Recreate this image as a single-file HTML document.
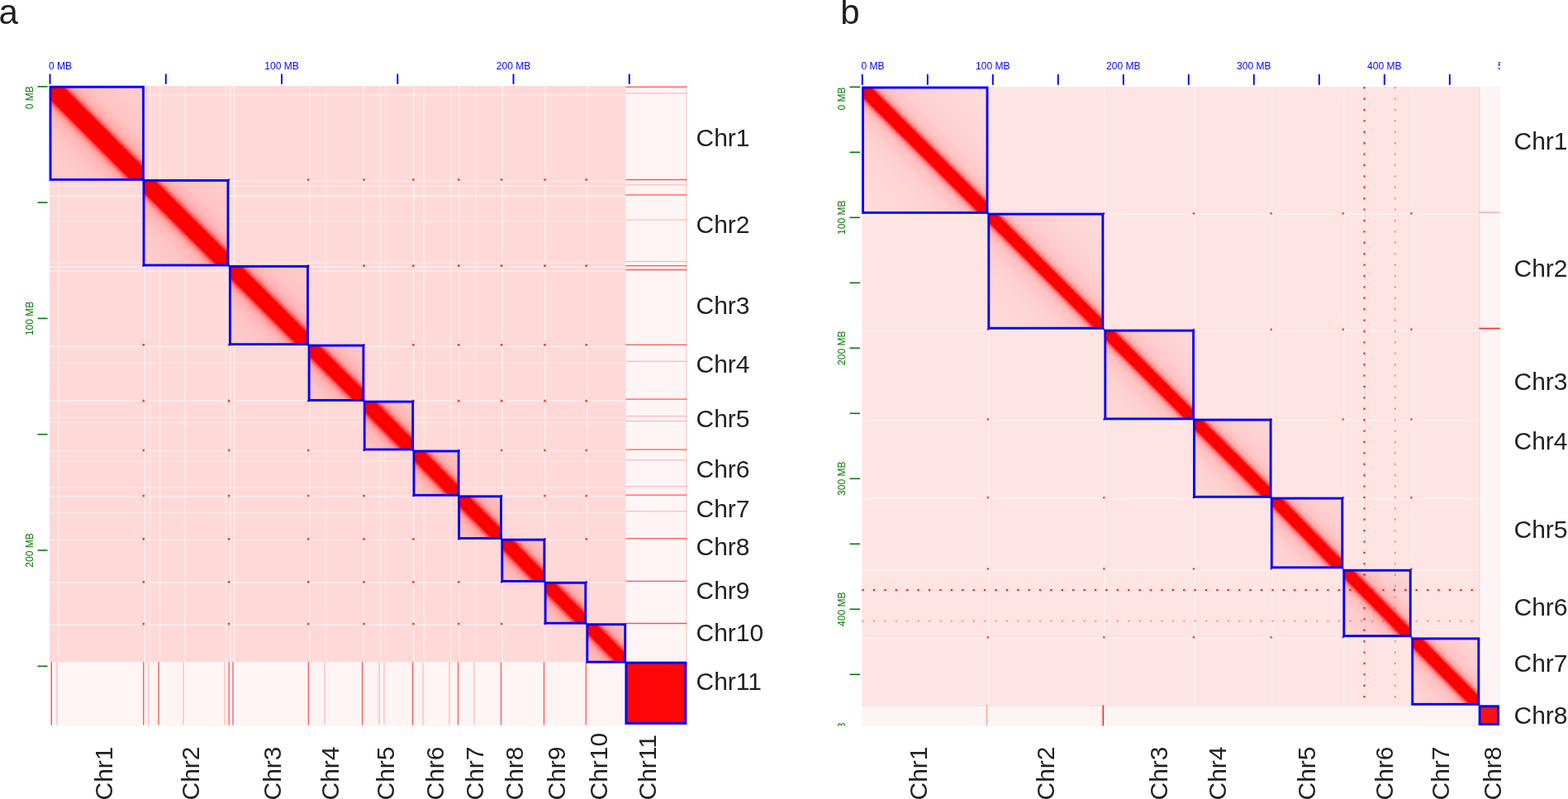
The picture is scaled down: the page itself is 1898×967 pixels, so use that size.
<!DOCTYPE html>
<html><head><meta charset="utf-8"><title>Hi-C heatmaps</title>
<style>html,body{margin:0;padding:0;background:#fff;overflow:hidden;width:1898px;height:967px}svg{display:block}</style>
</head><body>
<svg width="1898" height="967" viewBox="0 0 1898 967"><defs><linearGradient id="a0" gradientUnits="userSpaceOnUse" x1="61" y1="217.4" x2="173.5" y2="105.2"><stop offset="0" stop-color="#ffcece"/><stop offset="0.1262" stop-color="#ffcbcb"/><stop offset="0.2819" stop-color="#ffc4c4"/><stop offset="0.3576" stop-color="#ffb6b6"/><stop offset="0.3932" stop-color="#ffa0a0"/><stop offset="0.4132" stop-color="#ff7676"/><stop offset="0.4266" stop-color="#ff3a3a"/><stop offset="0.4377" stop-color="#ff0000"/><stop offset="0.5" stop-color="#ff0000"/><stop offset="0.5623" stop-color="#ff0000"/><stop offset="0.5734" stop-color="#ff3a3a"/><stop offset="0.5868" stop-color="#ff7676"/><stop offset="0.6068" stop-color="#ffa0a0"/><stop offset="0.6424" stop-color="#ffb6b6"/><stop offset="0.7181" stop-color="#ffc4c4"/><stop offset="0.8738" stop-color="#ffcbcb"/><stop offset="1" stop-color="#ffcece"/></linearGradient><linearGradient id="a1" gradientUnits="userSpaceOnUse" x1="174" y1="321" x2="276" y2="218.4"><stop offset="0" stop-color="#ffcdcd"/><stop offset="0.0968" stop-color="#ffcbcb"/><stop offset="0.2678" stop-color="#ffc4c4"/><stop offset="0.3509" stop-color="#ffb6b6"/><stop offset="0.39" stop-color="#ffa0a0"/><stop offset="0.412" stop-color="#ff7676"/><stop offset="0.4267" stop-color="#ff3a3a"/><stop offset="0.4389" stop-color="#ff0000"/><stop offset="0.5" stop-color="#ff0000"/><stop offset="0.5611" stop-color="#ff0000"/><stop offset="0.5733" stop-color="#ff3a3a"/><stop offset="0.588" stop-color="#ff7676"/><stop offset="0.61" stop-color="#ffa0a0"/><stop offset="0.6491" stop-color="#ffb6b6"/><stop offset="0.7322" stop-color="#ffc4c4"/><stop offset="0.9032" stop-color="#ffcbcb"/><stop offset="1" stop-color="#ffcdcd"/></linearGradient><linearGradient id="a2" gradientUnits="userSpaceOnUse" x1="278.4" y1="416.7" x2="372.5" y2="322.4"><stop offset="0" stop-color="#ffcccc"/><stop offset="0.0648" stop-color="#ffcbcb"/><stop offset="0.2505" stop-color="#ffc4c4"/><stop offset="0.3408" stop-color="#ffb6b6"/><stop offset="0.3832" stop-color="#ffa0a0"/><stop offset="0.4071" stop-color="#ff7676"/><stop offset="0.423" stop-color="#ff3a3a"/><stop offset="0.4363" stop-color="#ff0000"/><stop offset="0.5" stop-color="#ff0000"/><stop offset="0.5637" stop-color="#ff0000"/><stop offset="0.577" stop-color="#ff3a3a"/><stop offset="0.5929" stop-color="#ff7676"/><stop offset="0.6168" stop-color="#ffa0a0"/><stop offset="0.6592" stop-color="#ffb6b6"/><stop offset="0.7495" stop-color="#ffc4c4"/><stop offset="0.9352" stop-color="#ffcbcb"/><stop offset="1" stop-color="#ffcccc"/></linearGradient><linearGradient id="a3" gradientUnits="userSpaceOnUse" x1="374.1" y1="484.4" x2="439.9" y2="418.1"><stop offset="0" stop-color="#ffc8c8"/><stop offset="0.1556" stop-color="#ffc4c4"/><stop offset="0.2843" stop-color="#ffb6b6"/><stop offset="0.3448" stop-color="#ffa0a0"/><stop offset="0.3789" stop-color="#ff7676"/><stop offset="0.4016" stop-color="#ff3a3a"/><stop offset="0.4205" stop-color="#ff0000"/><stop offset="0.5" stop-color="#ff0000"/><stop offset="0.5795" stop-color="#ff0000"/><stop offset="0.5984" stop-color="#ff3a3a"/><stop offset="0.6211" stop-color="#ff7676"/><stop offset="0.6552" stop-color="#ffa0a0"/><stop offset="0.7157" stop-color="#ffb6b6"/><stop offset="0.8444" stop-color="#ffc4c4"/><stop offset="1" stop-color="#ffc8c8"/></linearGradient><linearGradient id="a4" gradientUnits="userSpaceOnUse" x1="441.2" y1="544" x2="499.7" y2="486.1"><stop offset="0" stop-color="#ffc6c6"/><stop offset="0.1048" stop-color="#ffc4c4"/><stop offset="0.2509" stop-color="#ffb6b6"/><stop offset="0.3196" stop-color="#ffa0a0"/><stop offset="0.3582" stop-color="#ff7676"/><stop offset="0.384" stop-color="#ff3a3a"/><stop offset="0.4055" stop-color="#ff0000"/><stop offset="0.5" stop-color="#ff0000"/><stop offset="0.5945" stop-color="#ff0000"/><stop offset="0.616" stop-color="#ff3a3a"/><stop offset="0.6418" stop-color="#ff7676"/><stop offset="0.6804" stop-color="#ffa0a0"/><stop offset="0.7491" stop-color="#ffb6b6"/><stop offset="0.8952" stop-color="#ffc4c4"/><stop offset="1" stop-color="#ffc6c6"/></linearGradient><linearGradient id="a5" gradientUnits="userSpaceOnUse" x1="501" y1="599.3" x2="555.1" y2="546"><stop offset="0" stop-color="#ffc6c6"/><stop offset="0.081" stop-color="#ffc4c4"/><stop offset="0.2393" stop-color="#ffb6b6"/><stop offset="0.3138" stop-color="#ffa0a0"/><stop offset="0.3557" stop-color="#ff7676"/><stop offset="0.3836" stop-color="#ff3a3a"/><stop offset="0.4069" stop-color="#ff0000"/><stop offset="0.5" stop-color="#ff0000"/><stop offset="0.5931" stop-color="#ff0000"/><stop offset="0.6164" stop-color="#ff3a3a"/><stop offset="0.6443" stop-color="#ff7676"/><stop offset="0.6862" stop-color="#ffa0a0"/><stop offset="0.7607" stop-color="#ffb6b6"/><stop offset="0.919" stop-color="#ffc4c4"/><stop offset="1" stop-color="#ffc6c6"/></linearGradient><linearGradient id="a6" gradientUnits="userSpaceOnUse" x1="555.6" y1="651.5" x2="606.5" y2="600.8"><stop offset="0" stop-color="#ffc5c5"/><stop offset="0.0571" stop-color="#ffc4c4"/><stop offset="0.2244" stop-color="#ffb6b6"/><stop offset="0.3031" stop-color="#ffa0a0"/><stop offset="0.3474" stop-color="#ff7676"/><stop offset="0.377" stop-color="#ff3a3a"/><stop offset="0.4016" stop-color="#ff0000"/><stop offset="0.5" stop-color="#ff0000"/><stop offset="0.5984" stop-color="#ff0000"/><stop offset="0.623" stop-color="#ff3a3a"/><stop offset="0.6526" stop-color="#ff7676"/><stop offset="0.6969" stop-color="#ffa0a0"/><stop offset="0.7756" stop-color="#ffb6b6"/><stop offset="0.9429" stop-color="#ffc4c4"/><stop offset="1" stop-color="#ffc5c5"/></linearGradient><linearGradient id="a7" gradientUnits="userSpaceOnUse" x1="607.8" y1="703.4" x2="658.9" y2="653.2"><stop offset="0" stop-color="#ffc5c5"/><stop offset="0.0558" stop-color="#ffc4c4"/><stop offset="0.2236" stop-color="#ffb6b6"/><stop offset="0.3026" stop-color="#ffa0a0"/><stop offset="0.347" stop-color="#ff7676"/><stop offset="0.3766" stop-color="#ff3a3a"/><stop offset="0.4013" stop-color="#ff0000"/><stop offset="0.5" stop-color="#ff0000"/><stop offset="0.5987" stop-color="#ff0000"/><stop offset="0.6234" stop-color="#ff3a3a"/><stop offset="0.653" stop-color="#ff7676"/><stop offset="0.6974" stop-color="#ffa0a0"/><stop offset="0.7764" stop-color="#ffb6b6"/><stop offset="0.9442" stop-color="#ffc4c4"/><stop offset="1" stop-color="#ffc5c5"/></linearGradient><linearGradient id="a8" gradientUnits="userSpaceOnUse" x1="660.1" y1="754.2" x2="708.8" y2="705.3"><stop offset="0" stop-color="#ffc5c5"/><stop offset="0.0441" stop-color="#ffc4c4"/><stop offset="0.2182" stop-color="#ffb6b6"/><stop offset="0.3002" stop-color="#ffa0a0"/><stop offset="0.3463" stop-color="#ff7676"/><stop offset="0.377" stop-color="#ff3a3a"/><stop offset="0.4027" stop-color="#ff0000"/><stop offset="0.5" stop-color="#ff0000"/><stop offset="0.5973" stop-color="#ff0000"/><stop offset="0.623" stop-color="#ff3a3a"/><stop offset="0.6537" stop-color="#ff7676"/><stop offset="0.6998" stop-color="#ffa0a0"/><stop offset="0.7818" stop-color="#ffb6b6"/><stop offset="0.9559" stop-color="#ffc4c4"/><stop offset="1" stop-color="#ffc5c5"/></linearGradient><linearGradient id="a9" gradientUnits="userSpaceOnUse" x1="710.8" y1="801.2" x2="756.7" y2="755.7"><stop offset="0" stop-color="#ffc4c4"/><stop offset="0.0131" stop-color="#ffc4c4"/><stop offset="0.1991" stop-color="#ffb6b6"/><stop offset="0.2867" stop-color="#ffa0a0"/><stop offset="0.3359" stop-color="#ff7676"/><stop offset="0.3687" stop-color="#ff3a3a"/><stop offset="0.3961" stop-color="#ff0000"/><stop offset="0.5" stop-color="#ff0000"/><stop offset="0.6039" stop-color="#ff0000"/><stop offset="0.6313" stop-color="#ff3a3a"/><stop offset="0.6641" stop-color="#ff7676"/><stop offset="0.7133" stop-color="#ffa0a0"/><stop offset="0.8009" stop-color="#ffb6b6"/><stop offset="0.9869" stop-color="#ffc4c4"/><stop offset="1" stop-color="#ffc4c4"/></linearGradient><linearGradient id="b0" gradientUnits="userSpaceOnUse" x1="1044.5" y1="257.4" x2="1195" y2="106"><stop offset="0" stop-color="#ffdcdc"/><stop offset="0.0379" stop-color="#ffdcdc"/><stop offset="0.2698" stop-color="#ffd4d4"/><stop offset="0.3692" stop-color="#ffcccc"/><stop offset="0.4155" stop-color="#ffc0c0"/><stop offset="0.4387" stop-color="#ffaaaa"/><stop offset="0.452" stop-color="#ff8080"/><stop offset="0.4603" stop-color="#ff4040"/><stop offset="0.4685" stop-color="#ff0000"/><stop offset="0.5" stop-color="#ff0000"/><stop offset="0.5315" stop-color="#ff0000"/><stop offset="0.5397" stop-color="#ff4040"/><stop offset="0.548" stop-color="#ff8080"/><stop offset="0.5613" stop-color="#ffaaaa"/><stop offset="0.5845" stop-color="#ffc0c0"/><stop offset="0.6308" stop-color="#ffcccc"/><stop offset="0.7302" stop-color="#ffd4d4"/><stop offset="0.9621" stop-color="#ffdcdc"/><stop offset="1" stop-color="#ffdcdc"/></linearGradient><linearGradient id="b1" gradientUnits="userSpaceOnUse" x1="1196.8" y1="397.2" x2="1334.9" y2="259.1"><stop offset="0" stop-color="#ffdcdc"/><stop offset="0.252" stop-color="#ffd4d4"/><stop offset="0.3606" stop-color="#ffcccc"/><stop offset="0.4113" stop-color="#ffc0c0"/><stop offset="0.4366" stop-color="#ffaaaa"/><stop offset="0.4511" stop-color="#ff8080"/><stop offset="0.4602" stop-color="#ff4040"/><stop offset="0.4692" stop-color="#ff0000"/><stop offset="0.5" stop-color="#ff0000"/><stop offset="0.5308" stop-color="#ff0000"/><stop offset="0.5398" stop-color="#ff4040"/><stop offset="0.5489" stop-color="#ff8080"/><stop offset="0.5634" stop-color="#ffaaaa"/><stop offset="0.5887" stop-color="#ffc0c0"/><stop offset="0.6394" stop-color="#ffcccc"/><stop offset="0.748" stop-color="#ffd4d4"/><stop offset="1" stop-color="#ffdcdc"/></linearGradient><linearGradient id="b2" gradientUnits="userSpaceOnUse" x1="1337.8" y1="506.9" x2="1444.6" y2="400.1"><stop offset="0" stop-color="#ffd8d8"/><stop offset="0.1793" stop-color="#ffd4d4"/><stop offset="0.3198" stop-color="#ffcccc"/><stop offset="0.3853" stop-color="#ffc0c0"/><stop offset="0.4181" stop-color="#ffaaaa"/><stop offset="0.4368" stop-color="#ff8080"/><stop offset="0.4485" stop-color="#ff4040"/><stop offset="0.4602" stop-color="#ff0000"/><stop offset="0.5" stop-color="#ff0000"/><stop offset="0.5398" stop-color="#ff0000"/><stop offset="0.5515" stop-color="#ff4040"/><stop offset="0.5632" stop-color="#ff8080"/><stop offset="0.5819" stop-color="#ffaaaa"/><stop offset="0.6147" stop-color="#ffc0c0"/><stop offset="0.6802" stop-color="#ffcccc"/><stop offset="0.8207" stop-color="#ffd4d4"/><stop offset="1" stop-color="#ffd8d8"/></linearGradient><linearGradient id="b3" gradientUnits="userSpaceOnUse" x1="1445.5" y1="601.3" x2="1538.1" y2="508.1"><stop offset="0" stop-color="#ffd7d7"/><stop offset="0.1313" stop-color="#ffd4d4"/><stop offset="0.2928" stop-color="#ffcccc"/><stop offset="0.3681" stop-color="#ffc0c0"/><stop offset="0.4058" stop-color="#ffaaaa"/><stop offset="0.4273" stop-color="#ff8080"/><stop offset="0.4408" stop-color="#ff4040"/><stop offset="0.4543" stop-color="#ff0000"/><stop offset="0.5" stop-color="#ff0000"/><stop offset="0.5457" stop-color="#ff0000"/><stop offset="0.5592" stop-color="#ff4040"/><stop offset="0.5727" stop-color="#ff8080"/><stop offset="0.5942" stop-color="#ffaaaa"/><stop offset="0.6319" stop-color="#ffc0c0"/><stop offset="0.7072" stop-color="#ffcccc"/><stop offset="0.8687" stop-color="#ffd4d4"/><stop offset="1" stop-color="#ffd7d7"/></linearGradient><linearGradient id="b4" gradientUnits="userSpaceOnUse" x1="1539.3" y1="686.8" x2="1624.8" y2="603.1"><stop offset="0" stop-color="#ffd6d6"/><stop offset="0.0952" stop-color="#ffd4d4"/><stop offset="0.2725" stop-color="#ffcccc"/><stop offset="0.3552" stop-color="#ffc0c0"/><stop offset="0.3966" stop-color="#ffaaaa"/><stop offset="0.4202" stop-color="#ff8080"/><stop offset="0.435" stop-color="#ff4040"/><stop offset="0.4498" stop-color="#ff0000"/><stop offset="0.5" stop-color="#ff0000"/><stop offset="0.5502" stop-color="#ff0000"/><stop offset="0.565" stop-color="#ff4040"/><stop offset="0.5798" stop-color="#ff8080"/><stop offset="0.6034" stop-color="#ffaaaa"/><stop offset="0.6448" stop-color="#ffc0c0"/><stop offset="0.7275" stop-color="#ffcccc"/><stop offset="0.9048" stop-color="#ffd4d4"/><stop offset="1" stop-color="#ffd6d6"/></linearGradient><linearGradient id="b5" gradientUnits="userSpaceOnUse" x1="1626.8" y1="769.7" x2="1707.2" y2="690.3"><stop offset="0" stop-color="#ffd5d5"/><stop offset="0.0745" stop-color="#ffd4d4"/><stop offset="0.2622" stop-color="#ffcccc"/><stop offset="0.3498" stop-color="#ffc0c0"/><stop offset="0.3936" stop-color="#ffaaaa"/><stop offset="0.4186" stop-color="#ff8080"/><stop offset="0.4343" stop-color="#ff4040"/><stop offset="0.4499" stop-color="#ff0000"/><stop offset="0.5" stop-color="#ff0000"/><stop offset="0.5501" stop-color="#ff0000"/><stop offset="0.5657" stop-color="#ff4040"/><stop offset="0.5814" stop-color="#ff8080"/><stop offset="0.6064" stop-color="#ffaaaa"/><stop offset="0.6502" stop-color="#ffc0c0"/><stop offset="0.7378" stop-color="#ffcccc"/><stop offset="0.9255" stop-color="#ffd4d4"/><stop offset="1" stop-color="#ffd5d5"/></linearGradient><linearGradient id="b6" gradientUnits="userSpaceOnUse" x1="1709.7" y1="852.3" x2="1789.8" y2="772.9"><stop offset="0" stop-color="#ffd5d5"/><stop offset="0.0674" stop-color="#ffd4d4"/><stop offset="0.2555" stop-color="#ffcccc"/><stop offset="0.3433" stop-color="#ffc0c0"/><stop offset="0.3871" stop-color="#ffaaaa"/><stop offset="0.4122" stop-color="#ff8080"/><stop offset="0.4279" stop-color="#ff4040"/><stop offset="0.4436" stop-color="#ff0000"/><stop offset="0.5" stop-color="#ff0000"/><stop offset="0.5564" stop-color="#ff0000"/><stop offset="0.5721" stop-color="#ff4040"/><stop offset="0.5878" stop-color="#ff8080"/><stop offset="0.6129" stop-color="#ffaaaa"/><stop offset="0.6567" stop-color="#ffc0c0"/><stop offset="0.7445" stop-color="#ffcccc"/><stop offset="0.9326" stop-color="#ffd4d4"/><stop offset="1" stop-color="#ffd5d5"/></linearGradient></defs>
<rect x="60" y="104" width="771.5" height="773.5" fill="#ffd8d8"/>
<rect x="757.3" y="104" width="74.2" height="697.25" fill="#fff5f5"/>
<rect x="60" y="801.25" width="697.3" height="76.25" fill="#fff5f5"/>
<line x1="175.25" y1="104" x2="175.25" y2="801.25" stroke="#ffffff" stroke-width="1.6" stroke-opacity="0.55"/>
<line x1="60" y1="219" x2="757.3" y2="219" stroke="#ffffff" stroke-width="1.6" stroke-opacity="0.55"/>
<line x1="193.5" y1="104" x2="193.5" y2="801.25" stroke="#ffffff" stroke-width="1.6" stroke-opacity="0.55"/>
<line x1="60" y1="237.38" x2="757.3" y2="237.38" stroke="#ffffff" stroke-width="1.6" stroke-opacity="0.55"/>
<line x1="278.7" y1="104" x2="278.7" y2="801.25" stroke="#ffffff" stroke-width="1.6" stroke-opacity="0.55"/>
<line x1="60" y1="323.2" x2="757.3" y2="323.2" stroke="#ffffff" stroke-width="1.6" stroke-opacity="0.55"/>
<line x1="283.5" y1="104" x2="283.5" y2="801.25" stroke="#ffffff" stroke-width="1.6" stroke-opacity="0.55"/>
<line x1="60" y1="327.98" x2="757.3" y2="327.98" stroke="#ffffff" stroke-width="1.6" stroke-opacity="0.55"/>
<line x1="374.8" y1="104" x2="374.8" y2="801.25" stroke="#ffffff" stroke-width="1.6" stroke-opacity="0.55"/>
<line x1="60" y1="418.9" x2="757.3" y2="418.9" stroke="#ffffff" stroke-width="1.6" stroke-opacity="0.55"/>
<line x1="440" y1="104" x2="440" y2="801.25" stroke="#ffffff" stroke-width="1.6" stroke-opacity="0.55"/>
<line x1="60" y1="484.68" x2="757.3" y2="484.68" stroke="#ffffff" stroke-width="1.6" stroke-opacity="0.55"/>
<line x1="501" y1="104" x2="501" y2="801.25" stroke="#ffffff" stroke-width="1.6" stroke-opacity="0.55"/>
<line x1="60" y1="545.7" x2="757.3" y2="545.7" stroke="#ffffff" stroke-width="1.6" stroke-opacity="0.55"/>
<line x1="556" y1="104" x2="556" y2="801.25" stroke="#ffffff" stroke-width="1.6" stroke-opacity="0.55"/>
<line x1="60" y1="600.65" x2="757.3" y2="600.65" stroke="#ffffff" stroke-width="1.6" stroke-opacity="0.55"/>
<line x1="608" y1="104" x2="608" y2="801.25" stroke="#ffffff" stroke-width="1.6" stroke-opacity="0.55"/>
<line x1="60" y1="653.19" x2="757.3" y2="653.19" stroke="#ffffff" stroke-width="1.6" stroke-opacity="0.55"/>
<line x1="660" y1="104" x2="660" y2="801.25" stroke="#ffffff" stroke-width="1.6" stroke-opacity="0.55"/>
<line x1="60" y1="704.86" x2="757.3" y2="704.86" stroke="#ffffff" stroke-width="1.6" stroke-opacity="0.55"/>
<line x1="710.8" y1="104" x2="710.8" y2="801.25" stroke="#ffffff" stroke-width="1.6" stroke-opacity="0.55"/>
<line x1="60" y1="756" x2="757.3" y2="756" stroke="#ffffff" stroke-width="1.6" stroke-opacity="0.55"/>
<line x1="70.5" y1="104" x2="70.5" y2="801.25" stroke="#ffffff" stroke-width="1.6" stroke-opacity="0.4"/>
<line x1="60" y1="114.48" x2="757.3" y2="114.48" stroke="#ffffff" stroke-width="1.6" stroke-opacity="0.4"/>
<line x1="181.5" y1="104" x2="181.5" y2="801.25" stroke="#ffffff" stroke-width="1.6" stroke-opacity="0.4"/>
<line x1="60" y1="225.3" x2="757.3" y2="225.3" stroke="#ffffff" stroke-width="1.6" stroke-opacity="0.4"/>
<line x1="223.5" y1="104" x2="223.5" y2="801.25" stroke="#ffffff" stroke-width="1.6" stroke-opacity="0.4"/>
<line x1="60" y1="267.6" x2="757.3" y2="267.6" stroke="#ffffff" stroke-width="1.6" stroke-opacity="0.4"/>
<line x1="273.5" y1="104" x2="273.5" y2="801.25" stroke="#ffffff" stroke-width="1.6" stroke-opacity="0.4"/>
<line x1="60" y1="317.96" x2="757.3" y2="317.96" stroke="#ffffff" stroke-width="1.6" stroke-opacity="0.4"/>
<line x1="394.5" y1="104" x2="394.5" y2="801.25" stroke="#ffffff" stroke-width="1.6" stroke-opacity="0.4"/>
<line x1="60" y1="438.78" x2="757.3" y2="438.78" stroke="#ffffff" stroke-width="1.6" stroke-opacity="0.4"/>
<line x1="460.5" y1="104" x2="460.5" y2="801.25" stroke="#ffffff" stroke-width="1.6" stroke-opacity="0.4"/>
<line x1="60" y1="505.2" x2="757.3" y2="505.2" stroke="#ffffff" stroke-width="1.6" stroke-opacity="0.4"/>
<line x1="466.5" y1="104" x2="466.5" y2="801.25" stroke="#ffffff" stroke-width="1.6" stroke-opacity="0.4"/>
<line x1="60" y1="511.2" x2="757.3" y2="511.2" stroke="#ffffff" stroke-width="1.6" stroke-opacity="0.4"/>
<line x1="513.5" y1="104" x2="513.5" y2="801.25" stroke="#ffffff" stroke-width="1.6" stroke-opacity="0.4"/>
<line x1="60" y1="558.19" x2="757.3" y2="558.19" stroke="#ffffff" stroke-width="1.6" stroke-opacity="0.4"/>
<line x1="545.5" y1="104" x2="545.5" y2="801.25" stroke="#ffffff" stroke-width="1.6" stroke-opacity="0.4"/>
<line x1="60" y1="590.16" x2="757.3" y2="590.16" stroke="#ffffff" stroke-width="1.6" stroke-opacity="0.4"/>
<line x1="575.5" y1="104" x2="575.5" y2="801.25" stroke="#ffffff" stroke-width="1.6" stroke-opacity="0.4"/>
<line x1="60" y1="620.35" x2="757.3" y2="620.35" stroke="#ffffff" stroke-width="1.6" stroke-opacity="0.4"/>
<rect x="61" y="105.2" width="112.5" height="112.2" fill="url(#a0)"/>
<rect x="174" y="218.4" width="102" height="102.6" fill="url(#a1)"/>
<rect x="278.4" y="322.4" width="94.1" height="94.3" fill="url(#a2)"/>
<rect x="374.1" y="418.1" width="65.8" height="66.3" fill="url(#a3)"/>
<rect x="441.2" y="486.1" width="58.5" height="57.9" fill="url(#a4)"/>
<rect x="501" y="546" width="54.1" height="53.3" fill="url(#a5)"/>
<rect x="555.6" y="600.8" width="50.9" height="50.7" fill="url(#a6)"/>
<rect x="607.8" y="653.2" width="51.1" height="50.2" fill="url(#a7)"/>
<rect x="660.1" y="705.3" width="48.7" height="48.9" fill="url(#a8)"/>
<rect x="710.8" y="755.7" width="45.9" height="45.5" fill="url(#a9)"/>
<line x1="173.75" y1="801.25" x2="173.75" y2="877.5" stroke="#ff2020" stroke-width="1.3" stroke-opacity="0.75"/>
<line x1="757.3" y1="217.5" x2="831.5" y2="217.5" stroke="#ff2020" stroke-width="1.3" stroke-opacity="0.75"/>
<line x1="192" y1="801.25" x2="192" y2="877.5" stroke="#ff2020" stroke-width="1.3" stroke-opacity="0.75"/>
<line x1="757.3" y1="235.88" x2="831.5" y2="235.88" stroke="#ff2020" stroke-width="1.3" stroke-opacity="0.75"/>
<line x1="277.2" y1="801.25" x2="277.2" y2="877.5" stroke="#ff2020" stroke-width="1.3" stroke-opacity="0.75"/>
<line x1="757.3" y1="321.7" x2="831.5" y2="321.7" stroke="#ff2020" stroke-width="1.3" stroke-opacity="0.75"/>
<line x1="282" y1="801.25" x2="282" y2="877.5" stroke="#ff2020" stroke-width="1.3" stroke-opacity="0.75"/>
<line x1="757.3" y1="326.48" x2="831.5" y2="326.48" stroke="#ff2020" stroke-width="1.3" stroke-opacity="0.75"/>
<line x1="373.3" y1="801.25" x2="373.3" y2="877.5" stroke="#ff2020" stroke-width="1.3" stroke-opacity="0.75"/>
<line x1="757.3" y1="417.4" x2="831.5" y2="417.4" stroke="#ff2020" stroke-width="1.3" stroke-opacity="0.75"/>
<line x1="438.5" y1="801.25" x2="438.5" y2="877.5" stroke="#ff2020" stroke-width="1.3" stroke-opacity="0.75"/>
<line x1="757.3" y1="483.18" x2="831.5" y2="483.18" stroke="#ff2020" stroke-width="1.3" stroke-opacity="0.75"/>
<line x1="499.5" y1="801.25" x2="499.5" y2="877.5" stroke="#ff2020" stroke-width="1.3" stroke-opacity="0.75"/>
<line x1="757.3" y1="544.2" x2="831.5" y2="544.2" stroke="#ff2020" stroke-width="1.3" stroke-opacity="0.75"/>
<line x1="554.5" y1="801.25" x2="554.5" y2="877.5" stroke="#ff2020" stroke-width="1.3" stroke-opacity="0.75"/>
<line x1="757.3" y1="599.15" x2="831.5" y2="599.15" stroke="#ff2020" stroke-width="1.3" stroke-opacity="0.75"/>
<line x1="606.5" y1="801.25" x2="606.5" y2="877.5" stroke="#ff2020" stroke-width="1.3" stroke-opacity="0.75"/>
<line x1="757.3" y1="651.69" x2="831.5" y2="651.69" stroke="#ff2020" stroke-width="1.3" stroke-opacity="0.75"/>
<line x1="658.5" y1="801.25" x2="658.5" y2="877.5" stroke="#ff2020" stroke-width="1.3" stroke-opacity="0.75"/>
<line x1="757.3" y1="703.36" x2="831.5" y2="703.36" stroke="#ff2020" stroke-width="1.3" stroke-opacity="0.75"/>
<line x1="709.3" y1="801.25" x2="709.3" y2="877.5" stroke="#ff2020" stroke-width="1.3" stroke-opacity="0.75"/>
<line x1="757.3" y1="754.5" x2="831.5" y2="754.5" stroke="#ff2020" stroke-width="1.3" stroke-opacity="0.75"/>
<line x1="69" y1="801.25" x2="69" y2="877.5" stroke="#ff2020" stroke-width="1" stroke-opacity="0.35"/>
<line x1="757.3" y1="112.98" x2="831.5" y2="112.98" stroke="#ff2020" stroke-width="1" stroke-opacity="0.35"/>
<line x1="180" y1="801.25" x2="180" y2="877.5" stroke="#ff2020" stroke-width="1" stroke-opacity="0.35"/>
<line x1="757.3" y1="223.8" x2="831.5" y2="223.8" stroke="#ff2020" stroke-width="1" stroke-opacity="0.35"/>
<line x1="222" y1="801.25" x2="222" y2="877.5" stroke="#ff2020" stroke-width="1" stroke-opacity="0.35"/>
<line x1="757.3" y1="266.1" x2="831.5" y2="266.1" stroke="#ff2020" stroke-width="1" stroke-opacity="0.35"/>
<line x1="272" y1="801.25" x2="272" y2="877.5" stroke="#ff2020" stroke-width="1" stroke-opacity="0.35"/>
<line x1="757.3" y1="316.46" x2="831.5" y2="316.46" stroke="#ff2020" stroke-width="1" stroke-opacity="0.35"/>
<line x1="393" y1="801.25" x2="393" y2="877.5" stroke="#ff2020" stroke-width="1" stroke-opacity="0.35"/>
<line x1="757.3" y1="437.28" x2="831.5" y2="437.28" stroke="#ff2020" stroke-width="1" stroke-opacity="0.35"/>
<line x1="459" y1="801.25" x2="459" y2="877.5" stroke="#ff2020" stroke-width="1" stroke-opacity="0.35"/>
<line x1="757.3" y1="503.7" x2="831.5" y2="503.7" stroke="#ff2020" stroke-width="1" stroke-opacity="0.35"/>
<line x1="465" y1="801.25" x2="465" y2="877.5" stroke="#ff2020" stroke-width="1" stroke-opacity="0.35"/>
<line x1="757.3" y1="509.7" x2="831.5" y2="509.7" stroke="#ff2020" stroke-width="1" stroke-opacity="0.35"/>
<line x1="512" y1="801.25" x2="512" y2="877.5" stroke="#ff2020" stroke-width="1" stroke-opacity="0.35"/>
<line x1="757.3" y1="556.69" x2="831.5" y2="556.69" stroke="#ff2020" stroke-width="1" stroke-opacity="0.35"/>
<line x1="544" y1="801.25" x2="544" y2="877.5" stroke="#ff2020" stroke-width="1" stroke-opacity="0.35"/>
<line x1="757.3" y1="588.66" x2="831.5" y2="588.66" stroke="#ff2020" stroke-width="1" stroke-opacity="0.35"/>
<line x1="574" y1="801.25" x2="574" y2="877.5" stroke="#ff2020" stroke-width="1" stroke-opacity="0.35"/>
<line x1="757.3" y1="618.85" x2="831.5" y2="618.85" stroke="#ff2020" stroke-width="1" stroke-opacity="0.35"/>
<line x1="757.3" y1="105.2" x2="831.5" y2="105.2" stroke="#ff3030" stroke-width="1.6" stroke-opacity="0.7"/>
<line x1="62.3" y1="801.25" x2="62.3" y2="877.5" stroke="#ff2020" stroke-width="1.4" stroke-opacity="0.8"/>
<line x1="830.7" y1="104" x2="830.7" y2="801.25" stroke="#ff6060" stroke-width="1" stroke-opacity="0.3"/>
<circle cx="173.75" cy="217.5" r="1.6" fill="#ff0000" fill-opacity="0.7"/>
<circle cx="173.75" cy="321.7" r="1.6" fill="#ff0000" fill-opacity="0.7"/>
<circle cx="173.75" cy="417.4" r="1.6" fill="#ff0000" fill-opacity="0.7"/>
<circle cx="173.75" cy="485.2" r="1.6" fill="#ff0000" fill-opacity="0.7"/>
<circle cx="173.75" cy="545" r="1.6" fill="#ff0000" fill-opacity="0.7"/>
<circle cx="173.75" cy="600" r="1.6" fill="#ff0000" fill-opacity="0.7"/>
<circle cx="173.75" cy="652.35" r="1.6" fill="#ff0000" fill-opacity="0.7"/>
<circle cx="173.75" cy="704.35" r="1.6" fill="#ff0000" fill-opacity="0.7"/>
<circle cx="173.75" cy="755" r="1.6" fill="#ff0000" fill-opacity="0.7"/>
<circle cx="277.2" cy="217.5" r="1.6" fill="#ff0000" fill-opacity="0.7"/>
<circle cx="277.2" cy="321.7" r="1.6" fill="#ff0000" fill-opacity="0.7"/>
<circle cx="277.2" cy="417.4" r="1.6" fill="#ff0000" fill-opacity="0.7"/>
<circle cx="277.2" cy="485.2" r="1.6" fill="#ff0000" fill-opacity="0.7"/>
<circle cx="277.2" cy="545" r="1.6" fill="#ff0000" fill-opacity="0.7"/>
<circle cx="277.2" cy="600" r="1.6" fill="#ff0000" fill-opacity="0.7"/>
<circle cx="277.2" cy="652.35" r="1.6" fill="#ff0000" fill-opacity="0.7"/>
<circle cx="277.2" cy="704.35" r="1.6" fill="#ff0000" fill-opacity="0.7"/>
<circle cx="277.2" cy="755" r="1.6" fill="#ff0000" fill-opacity="0.7"/>
<circle cx="373.3" cy="217.5" r="1.6" fill="#ff0000" fill-opacity="0.7"/>
<circle cx="373.3" cy="321.7" r="1.6" fill="#ff0000" fill-opacity="0.7"/>
<circle cx="373.3" cy="417.4" r="1.6" fill="#ff0000" fill-opacity="0.7"/>
<circle cx="373.3" cy="485.2" r="1.6" fill="#ff0000" fill-opacity="0.7"/>
<circle cx="373.3" cy="545" r="1.6" fill="#ff0000" fill-opacity="0.7"/>
<circle cx="373.3" cy="600" r="1.6" fill="#ff0000" fill-opacity="0.7"/>
<circle cx="373.3" cy="652.35" r="1.6" fill="#ff0000" fill-opacity="0.7"/>
<circle cx="373.3" cy="704.35" r="1.6" fill="#ff0000" fill-opacity="0.7"/>
<circle cx="373.3" cy="755" r="1.6" fill="#ff0000" fill-opacity="0.7"/>
<circle cx="440.5" cy="217.5" r="1.6" fill="#ff0000" fill-opacity="0.7"/>
<circle cx="440.5" cy="321.7" r="1.6" fill="#ff0000" fill-opacity="0.7"/>
<circle cx="440.5" cy="417.4" r="1.6" fill="#ff0000" fill-opacity="0.7"/>
<circle cx="440.5" cy="485.2" r="1.6" fill="#ff0000" fill-opacity="0.7"/>
<circle cx="440.5" cy="545" r="1.6" fill="#ff0000" fill-opacity="0.7"/>
<circle cx="440.5" cy="600" r="1.6" fill="#ff0000" fill-opacity="0.7"/>
<circle cx="440.5" cy="652.35" r="1.6" fill="#ff0000" fill-opacity="0.7"/>
<circle cx="440.5" cy="704.35" r="1.6" fill="#ff0000" fill-opacity="0.7"/>
<circle cx="440.5" cy="755" r="1.6" fill="#ff0000" fill-opacity="0.7"/>
<circle cx="500.3" cy="217.5" r="1.6" fill="#ff0000" fill-opacity="0.7"/>
<circle cx="500.3" cy="321.7" r="1.6" fill="#ff0000" fill-opacity="0.7"/>
<circle cx="500.3" cy="417.4" r="1.6" fill="#ff0000" fill-opacity="0.7"/>
<circle cx="500.3" cy="485.2" r="1.6" fill="#ff0000" fill-opacity="0.7"/>
<circle cx="500.3" cy="545" r="1.6" fill="#ff0000" fill-opacity="0.7"/>
<circle cx="500.3" cy="600" r="1.6" fill="#ff0000" fill-opacity="0.7"/>
<circle cx="500.3" cy="652.35" r="1.6" fill="#ff0000" fill-opacity="0.7"/>
<circle cx="500.3" cy="704.35" r="1.6" fill="#ff0000" fill-opacity="0.7"/>
<circle cx="500.3" cy="755" r="1.6" fill="#ff0000" fill-opacity="0.7"/>
<circle cx="555.35" cy="217.5" r="1.6" fill="#ff0000" fill-opacity="0.7"/>
<circle cx="555.35" cy="321.7" r="1.6" fill="#ff0000" fill-opacity="0.7"/>
<circle cx="555.35" cy="417.4" r="1.6" fill="#ff0000" fill-opacity="0.7"/>
<circle cx="555.35" cy="485.2" r="1.6" fill="#ff0000" fill-opacity="0.7"/>
<circle cx="555.35" cy="545" r="1.6" fill="#ff0000" fill-opacity="0.7"/>
<circle cx="555.35" cy="600" r="1.6" fill="#ff0000" fill-opacity="0.7"/>
<circle cx="555.35" cy="652.35" r="1.6" fill="#ff0000" fill-opacity="0.7"/>
<circle cx="555.35" cy="704.35" r="1.6" fill="#ff0000" fill-opacity="0.7"/>
<circle cx="555.35" cy="755" r="1.6" fill="#ff0000" fill-opacity="0.7"/>
<circle cx="607.15" cy="217.5" r="1.6" fill="#ff0000" fill-opacity="0.7"/>
<circle cx="607.15" cy="321.7" r="1.6" fill="#ff0000" fill-opacity="0.7"/>
<circle cx="607.15" cy="417.4" r="1.6" fill="#ff0000" fill-opacity="0.7"/>
<circle cx="607.15" cy="485.2" r="1.6" fill="#ff0000" fill-opacity="0.7"/>
<circle cx="607.15" cy="545" r="1.6" fill="#ff0000" fill-opacity="0.7"/>
<circle cx="607.15" cy="600" r="1.6" fill="#ff0000" fill-opacity="0.7"/>
<circle cx="607.15" cy="652.35" r="1.6" fill="#ff0000" fill-opacity="0.7"/>
<circle cx="607.15" cy="704.35" r="1.6" fill="#ff0000" fill-opacity="0.7"/>
<circle cx="607.15" cy="755" r="1.6" fill="#ff0000" fill-opacity="0.7"/>
<circle cx="659.5" cy="217.5" r="1.6" fill="#ff0000" fill-opacity="0.7"/>
<circle cx="659.5" cy="321.7" r="1.6" fill="#ff0000" fill-opacity="0.7"/>
<circle cx="659.5" cy="417.4" r="1.6" fill="#ff0000" fill-opacity="0.7"/>
<circle cx="659.5" cy="485.2" r="1.6" fill="#ff0000" fill-opacity="0.7"/>
<circle cx="659.5" cy="545" r="1.6" fill="#ff0000" fill-opacity="0.7"/>
<circle cx="659.5" cy="600" r="1.6" fill="#ff0000" fill-opacity="0.7"/>
<circle cx="659.5" cy="652.35" r="1.6" fill="#ff0000" fill-opacity="0.7"/>
<circle cx="659.5" cy="704.35" r="1.6" fill="#ff0000" fill-opacity="0.7"/>
<circle cx="659.5" cy="755" r="1.6" fill="#ff0000" fill-opacity="0.7"/>
<circle cx="709.8" cy="217.5" r="1.6" fill="#ff0000" fill-opacity="0.7"/>
<circle cx="709.8" cy="321.7" r="1.6" fill="#ff0000" fill-opacity="0.7"/>
<circle cx="709.8" cy="417.4" r="1.6" fill="#ff0000" fill-opacity="0.7"/>
<circle cx="709.8" cy="485.2" r="1.6" fill="#ff0000" fill-opacity="0.7"/>
<circle cx="709.8" cy="545" r="1.6" fill="#ff0000" fill-opacity="0.7"/>
<circle cx="709.8" cy="600" r="1.6" fill="#ff0000" fill-opacity="0.7"/>
<circle cx="709.8" cy="652.35" r="1.6" fill="#ff0000" fill-opacity="0.7"/>
<circle cx="709.8" cy="704.35" r="1.6" fill="#ff0000" fill-opacity="0.7"/>
<circle cx="709.8" cy="755" r="1.6" fill="#ff0000" fill-opacity="0.7"/>
<rect x="757.9" y="802.1" width="72" height="73.3" fill="#ff0606"/>
<rect x="61" y="105.2" width="112.5" height="112.2" fill="none" stroke="#0000ff" stroke-width="2.9"/>
<rect x="174" y="218.4" width="102" height="102.6" fill="none" stroke="#0000ff" stroke-width="2.9"/>
<rect x="278.4" y="322.4" width="94.1" height="94.3" fill="none" stroke="#0000ff" stroke-width="2.9"/>
<rect x="374.1" y="418.1" width="65.8" height="66.3" fill="none" stroke="#0000ff" stroke-width="2.9"/>
<rect x="441.2" y="486.1" width="58.5" height="57.9" fill="none" stroke="#0000ff" stroke-width="2.9"/>
<rect x="501" y="546" width="54.1" height="53.3" fill="none" stroke="#0000ff" stroke-width="2.9"/>
<rect x="555.6" y="600.8" width="50.9" height="50.7" fill="none" stroke="#0000ff" stroke-width="2.9"/>
<rect x="607.8" y="653.2" width="51.1" height="50.2" fill="none" stroke="#0000ff" stroke-width="2.9"/>
<rect x="660.1" y="705.3" width="48.7" height="48.9" fill="none" stroke="#0000ff" stroke-width="2.9"/>
<rect x="710.8" y="755.7" width="45.9" height="45.5" fill="none" stroke="#0000ff" stroke-width="2.9"/>
<rect x="757.9" y="802.1" width="72" height="73.3" fill="none" stroke="#0000ff" stroke-width="2.9"/>
<rect x="1043.5" y="105" width="772.5" height="773.5" fill="#ffe4e4"/>
<rect x="1790.45" y="105" width="25.55" height="748.55" fill="#fff4f4"/>
<rect x="1043.5" y="853.55" width="746.95" height="24.95" fill="#fff4f4"/>
<line x1="1790.75" y1="105" x2="1790.75" y2="853.55" stroke="#e2e2e2" stroke-width="1.3"/>
<line x1="1043.5" y1="853.85" x2="1790.45" y2="853.85" stroke="#e2e2e2" stroke-width="1.3"/>
<line x1="1197.1" y1="105" x2="1197.1" y2="853.55" stroke="#ffffff" stroke-width="1.3" stroke-opacity="0.5"/>
<line x1="1043.5" y1="259.45" x2="1790.45" y2="259.45" stroke="#ffffff" stroke-width="1.3" stroke-opacity="0.5"/>
<line x1="1337.55" y1="105" x2="1337.55" y2="853.55" stroke="#ffffff" stroke-width="1.3" stroke-opacity="0.5"/>
<line x1="1043.5" y1="399.85" x2="1790.45" y2="399.85" stroke="#ffffff" stroke-width="1.3" stroke-opacity="0.5"/>
<line x1="1446.25" y1="105" x2="1446.25" y2="853.55" stroke="#ffffff" stroke-width="1.3" stroke-opacity="0.5"/>
<line x1="1043.5" y1="508.7" x2="1790.45" y2="508.7" stroke="#ffffff" stroke-width="1.3" stroke-opacity="0.5"/>
<line x1="1539.9" y1="105" x2="1539.9" y2="853.55" stroke="#ffffff" stroke-width="1.3" stroke-opacity="0.5"/>
<line x1="1043.5" y1="603.4" x2="1790.45" y2="603.4" stroke="#ffffff" stroke-width="1.3" stroke-opacity="0.5"/>
<line x1="1627" y1="105" x2="1627" y2="853.55" stroke="#ffffff" stroke-width="1.3" stroke-opacity="0.5"/>
<line x1="1043.5" y1="689.75" x2="1790.45" y2="689.75" stroke="#ffffff" stroke-width="1.3" stroke-opacity="0.5"/>
<line x1="1709.65" y1="105" x2="1709.65" y2="853.55" stroke="#ffffff" stroke-width="1.3" stroke-opacity="0.5"/>
<line x1="1043.5" y1="772.5" x2="1790.45" y2="772.5" stroke="#ffffff" stroke-width="1.3" stroke-opacity="0.5"/>
<rect x="1044.5" y="106" width="150.5" height="151.4" fill="url(#b0)"/>
<rect x="1196.8" y="259.1" width="138.1" height="138.1" fill="url(#b1)"/>
<rect x="1337.8" y="400.1" width="106.8" height="106.8" fill="url(#b2)"/>
<rect x="1445.5" y="508.1" width="92.6" height="93.2" fill="url(#b3)"/>
<rect x="1539.3" y="603.1" width="85.5" height="83.7" fill="url(#b4)"/>
<rect x="1626.8" y="690.3" width="80.4" height="79.4" fill="url(#b5)"/>
<rect x="1709.7" y="772.9" width="80.1" height="79.4" fill="url(#b6)"/>
<line x1="1335.3" y1="853.55" x2="1335.3" y2="878.5" stroke="#ff1010" stroke-width="1.6" stroke-opacity="0.9"/>
<line x1="1194.5" y1="853.55" x2="1194.5" y2="878.5" stroke="#ff4040" stroke-width="1.2" stroke-opacity="0.5"/>
<line x1="1790.45" y1="397.5" x2="1816" y2="397.5" stroke="#ff1010" stroke-width="1.6" stroke-opacity="0.9"/>
<line x1="1790.45" y1="257" x2="1816" y2="257" stroke="#ff4040" stroke-width="1.2" stroke-opacity="0.5"/>
<circle cx="1195.9" cy="258.25" r="1.5" fill="#ff0000" fill-opacity="0.65"/>
<circle cx="1195.9" cy="398.65" r="1.5" fill="#ff0000" fill-opacity="0.65"/>
<circle cx="1195.9" cy="507.5" r="1.5" fill="#ff0000" fill-opacity="0.65"/>
<circle cx="1195.9" cy="602.2" r="1.5" fill="#ff0000" fill-opacity="0.65"/>
<circle cx="1195.9" cy="688.55" r="1.5" fill="#ff0000" fill-opacity="0.65"/>
<circle cx="1195.9" cy="771.3" r="1.5" fill="#ff0000" fill-opacity="0.65"/>
<circle cx="1336.35" cy="258.25" r="1.5" fill="#ff0000" fill-opacity="0.65"/>
<circle cx="1336.35" cy="398.65" r="1.5" fill="#ff0000" fill-opacity="0.65"/>
<circle cx="1336.35" cy="507.5" r="1.5" fill="#ff0000" fill-opacity="0.65"/>
<circle cx="1336.35" cy="602.2" r="1.5" fill="#ff0000" fill-opacity="0.65"/>
<circle cx="1336.35" cy="688.55" r="1.5" fill="#ff0000" fill-opacity="0.65"/>
<circle cx="1336.35" cy="771.3" r="1.5" fill="#ff0000" fill-opacity="0.65"/>
<circle cx="1445.05" cy="258.25" r="1.5" fill="#ff0000" fill-opacity="0.65"/>
<circle cx="1445.05" cy="398.65" r="1.5" fill="#ff0000" fill-opacity="0.65"/>
<circle cx="1445.05" cy="507.5" r="1.5" fill="#ff0000" fill-opacity="0.65"/>
<circle cx="1445.05" cy="602.2" r="1.5" fill="#ff0000" fill-opacity="0.65"/>
<circle cx="1445.05" cy="688.55" r="1.5" fill="#ff0000" fill-opacity="0.65"/>
<circle cx="1445.05" cy="771.3" r="1.5" fill="#ff0000" fill-opacity="0.65"/>
<circle cx="1538.7" cy="258.25" r="1.5" fill="#ff0000" fill-opacity="0.65"/>
<circle cx="1538.7" cy="398.65" r="1.5" fill="#ff0000" fill-opacity="0.65"/>
<circle cx="1538.7" cy="507.5" r="1.5" fill="#ff0000" fill-opacity="0.65"/>
<circle cx="1538.7" cy="602.2" r="1.5" fill="#ff0000" fill-opacity="0.65"/>
<circle cx="1538.7" cy="688.55" r="1.5" fill="#ff0000" fill-opacity="0.65"/>
<circle cx="1538.7" cy="771.3" r="1.5" fill="#ff0000" fill-opacity="0.65"/>
<circle cx="1625.8" cy="258.25" r="1.5" fill="#ff0000" fill-opacity="0.65"/>
<circle cx="1625.8" cy="398.65" r="1.5" fill="#ff0000" fill-opacity="0.65"/>
<circle cx="1625.8" cy="507.5" r="1.5" fill="#ff0000" fill-opacity="0.65"/>
<circle cx="1625.8" cy="602.2" r="1.5" fill="#ff0000" fill-opacity="0.65"/>
<circle cx="1625.8" cy="688.55" r="1.5" fill="#ff0000" fill-opacity="0.65"/>
<circle cx="1625.8" cy="771.3" r="1.5" fill="#ff0000" fill-opacity="0.65"/>
<circle cx="1708.45" cy="258.25" r="1.5" fill="#ff0000" fill-opacity="0.65"/>
<circle cx="1708.45" cy="398.65" r="1.5" fill="#ff0000" fill-opacity="0.65"/>
<circle cx="1708.45" cy="507.5" r="1.5" fill="#ff0000" fill-opacity="0.65"/>
<circle cx="1708.45" cy="602.2" r="1.5" fill="#ff0000" fill-opacity="0.65"/>
<circle cx="1708.45" cy="688.55" r="1.5" fill="#ff0000" fill-opacity="0.65"/>
<circle cx="1708.45" cy="771.3" r="1.5" fill="#ff0000" fill-opacity="0.65"/>
<line x1="1043.5" y1="714.2" x2="1790.45" y2="714.2" stroke="#ff0000" stroke-width="2.2" stroke-dasharray="2.4 11" stroke-opacity="0.85"/>
<line x1="1651.5" y1="105" x2="1651.5" y2="853.55" stroke="#ff0000" stroke-width="2.2" stroke-dasharray="2.4 11" stroke-opacity="0.85"/>
<line x1="1043.5" y1="751.5" x2="1790.45" y2="751.5" stroke="#ff0000" stroke-width="2.2" stroke-dasharray="2.4 11" stroke-opacity="0.35"/>
<line x1="1688.8" y1="105" x2="1688.8" y2="853.55" stroke="#ff0000" stroke-width="2.2" stroke-dasharray="2.4 11" stroke-opacity="0.35"/>
<rect x="1791.1" y="854.8" width="22.3" height="21.6" fill="#ff1010"/>
<rect x="1044.5" y="106" width="150.5" height="151.4" fill="none" stroke="#0000ff" stroke-width="2.9"/>
<rect x="1196.8" y="259.1" width="138.1" height="138.1" fill="none" stroke="#0000ff" stroke-width="2.9"/>
<rect x="1337.8" y="400.1" width="106.8" height="106.8" fill="none" stroke="#0000ff" stroke-width="2.9"/>
<rect x="1445.5" y="508.1" width="92.6" height="93.2" fill="none" stroke="#0000ff" stroke-width="2.9"/>
<rect x="1539.3" y="603.1" width="85.5" height="83.7" fill="none" stroke="#0000ff" stroke-width="2.9"/>
<rect x="1626.8" y="690.3" width="80.4" height="79.4" fill="none" stroke="#0000ff" stroke-width="2.9"/>
<rect x="1709.7" y="772.9" width="80.1" height="79.4" fill="none" stroke="#0000ff" stroke-width="2.9"/>
<rect x="1791.1" y="854.8" width="22.3" height="21.6" fill="none" stroke="#0000ff" stroke-width="2.9"/>
<line x1="60.5" y1="89.5" x2="60.5" y2="101.8" stroke="#0000ff" stroke-width="1.9"/>
<line x1="200.75" y1="89.5" x2="200.75" y2="101.8" stroke="#0000ff" stroke-width="1.9"/>
<line x1="341" y1="89.5" x2="341" y2="101.8" stroke="#0000ff" stroke-width="1.9"/>
<line x1="481.25" y1="89.5" x2="481.25" y2="101.8" stroke="#0000ff" stroke-width="1.9"/>
<line x1="621.5" y1="89.5" x2="621.5" y2="101.8" stroke="#0000ff" stroke-width="1.9"/>
<line x1="761.75" y1="89.5" x2="761.75" y2="101.8" stroke="#0000ff" stroke-width="1.9"/>
<line x1="45.5" y1="104.8" x2="57.5" y2="104.8" stroke="#087808" stroke-width="1.6"/>
<line x1="45.5" y1="245.1" x2="57.5" y2="245.1" stroke="#087808" stroke-width="1.6"/>
<line x1="45.5" y1="385.4" x2="57.5" y2="385.4" stroke="#087808" stroke-width="1.6"/>
<line x1="45.5" y1="525.7" x2="57.5" y2="525.7" stroke="#087808" stroke-width="1.6"/>
<line x1="45.5" y1="666" x2="57.5" y2="666" stroke="#087808" stroke-width="1.6"/>
<line x1="45.5" y1="806.3" x2="57.5" y2="806.3" stroke="#087808" stroke-width="1.6"/>
<line x1="1043.8" y1="89.8" x2="1043.8" y2="102.8" stroke="#0000ff" stroke-width="1.9"/>
<line x1="1122.8" y1="89.8" x2="1122.8" y2="102.8" stroke="#0000ff" stroke-width="1.9"/>
<line x1="1201.8" y1="89.8" x2="1201.8" y2="102.8" stroke="#0000ff" stroke-width="1.9"/>
<line x1="1280.8" y1="89.8" x2="1280.8" y2="102.8" stroke="#0000ff" stroke-width="1.9"/>
<line x1="1359.8" y1="89.8" x2="1359.8" y2="102.8" stroke="#0000ff" stroke-width="1.9"/>
<line x1="1438.8" y1="89.8" x2="1438.8" y2="102.8" stroke="#0000ff" stroke-width="1.9"/>
<line x1="1517.8" y1="89.8" x2="1517.8" y2="102.8" stroke="#0000ff" stroke-width="1.9"/>
<line x1="1596.8" y1="89.8" x2="1596.8" y2="102.8" stroke="#0000ff" stroke-width="1.9"/>
<line x1="1675.8" y1="89.8" x2="1675.8" y2="102.8" stroke="#0000ff" stroke-width="1.9"/>
<line x1="1754.8" y1="89.8" x2="1754.8" y2="102.8" stroke="#0000ff" stroke-width="1.9"/>
<line x1="1028.5" y1="105.3" x2="1041" y2="105.3" stroke="#087808" stroke-width="1.6"/>
<line x1="1028.5" y1="184.3" x2="1041" y2="184.3" stroke="#087808" stroke-width="1.6"/>
<line x1="1028.5" y1="263.3" x2="1041" y2="263.3" stroke="#087808" stroke-width="1.6"/>
<line x1="1028.5" y1="342.3" x2="1041" y2="342.3" stroke="#087808" stroke-width="1.6"/>
<line x1="1028.5" y1="421.3" x2="1041" y2="421.3" stroke="#087808" stroke-width="1.6"/>
<line x1="1028.5" y1="500.3" x2="1041" y2="500.3" stroke="#087808" stroke-width="1.6"/>
<line x1="1028.5" y1="579.3" x2="1041" y2="579.3" stroke="#087808" stroke-width="1.6"/>
<line x1="1028.5" y1="658.3" x2="1041" y2="658.3" stroke="#087808" stroke-width="1.6"/>
<line x1="1028.5" y1="737.3" x2="1041" y2="737.3" stroke="#087808" stroke-width="1.6"/>
<line x1="1028.5" y1="816.3" x2="1041" y2="816.3" stroke="#087808" stroke-width="1.6"/>
<text x="59" y="84.2" font-family="Liberation Sans, Arial, sans-serif" font-size="12" fill="#0000ff" text-anchor="start">0 MB</text>
<text x="341" y="84.2" font-family="Liberation Sans, Arial, sans-serif" font-size="12" fill="#0000ff" text-anchor="middle">100 MB</text>
<text x="621.5" y="84.2" font-family="Liberation Sans, Arial, sans-serif" font-size="12" fill="#0000ff" text-anchor="middle">200 MB</text>
<text transform="translate(40.3 104.3) rotate(-90)" font-family="Liberation Sans, Arial, sans-serif" font-size="12" fill="#087808" text-anchor="end">0 MB</text>
<text transform="translate(40.3 385.4) rotate(-90)" font-family="Liberation Sans, Arial, sans-serif" font-size="12" fill="#087808" text-anchor="middle">100 MB</text>
<text transform="translate(40.3 666) rotate(-90)" font-family="Liberation Sans, Arial, sans-serif" font-size="12" fill="#087808" text-anchor="middle">200 MB</text>
<text x="1042.5" y="84.2" font-family="Liberation Sans, Arial, sans-serif" font-size="12" fill="#0000ff" text-anchor="start">0 MB</text>
<text x="1201.8" y="84.2" font-family="Liberation Sans, Arial, sans-serif" font-size="12" fill="#0000ff" text-anchor="middle">100 MB</text>
<text x="1359.8" y="84.2" font-family="Liberation Sans, Arial, sans-serif" font-size="12" fill="#0000ff" text-anchor="middle">200 MB</text>
<text x="1517.8" y="84.2" font-family="Liberation Sans, Arial, sans-serif" font-size="12" fill="#0000ff" text-anchor="middle">300 MB</text>
<text x="1675.8" y="84.2" font-family="Liberation Sans, Arial, sans-serif" font-size="12" fill="#0000ff" text-anchor="middle">400 MB</text>
<svg x="1700" y="60" width="116" height="40" overflow="hidden"><text x="133.8" y="24.2" font-family="Liberation Sans, Arial, sans-serif" font-size="12" fill="#0000ff" text-anchor="middle">500 MB</text></svg>
<text transform="translate(1023.2 105.5) rotate(-90)" font-family="Liberation Sans, Arial, sans-serif" font-size="12" fill="#087808" text-anchor="end">0 MB</text>
<text transform="translate(1023.2 263.3) rotate(-90)" font-family="Liberation Sans, Arial, sans-serif" font-size="12" fill="#087808" text-anchor="middle">100 MB</text>
<text transform="translate(1023.2 421.3) rotate(-90)" font-family="Liberation Sans, Arial, sans-serif" font-size="12" fill="#087808" text-anchor="middle">200 MB</text>
<text transform="translate(1023.2 579.3) rotate(-90)" font-family="Liberation Sans, Arial, sans-serif" font-size="12" fill="#087808" text-anchor="middle">300 MB</text>
<text transform="translate(1023.2 737.3) rotate(-90)" font-family="Liberation Sans, Arial, sans-serif" font-size="12" fill="#087808" text-anchor="middle">400 MB</text>
<svg x="990" y="700" width="60" height="178.5" overflow="hidden"><text transform="translate(33.2 195.3) rotate(-90)" font-family="Liberation Sans, Arial, sans-serif" font-size="12" fill="#087808" text-anchor="middle">500 MB</text></svg>
<text x="842.5" y="176.8" font-family="Liberation Sans, Arial, sans-serif" font-size="30" fill="#231f20">Chr1</text>
<text x="842.5" y="281.8" font-family="Liberation Sans, Arial, sans-serif" font-size="30" fill="#231f20">Chr2</text>
<text x="842.5" y="380" font-family="Liberation Sans, Arial, sans-serif" font-size="30" fill="#231f20">Chr3</text>
<text x="842.5" y="451" font-family="Liberation Sans, Arial, sans-serif" font-size="30" fill="#231f20">Chr4</text>
<text x="842.5" y="516.5" font-family="Liberation Sans, Arial, sans-serif" font-size="30" fill="#231f20">Chr5</text>
<text x="842.5" y="578" font-family="Liberation Sans, Arial, sans-serif" font-size="30" fill="#231f20">Chr6</text>
<text x="842.5" y="625.5" font-family="Liberation Sans, Arial, sans-serif" font-size="30" fill="#231f20">Chr7</text>
<text x="842.5" y="672.4" font-family="Liberation Sans, Arial, sans-serif" font-size="30" fill="#231f20">Chr8</text>
<text x="842.5" y="725.2" font-family="Liberation Sans, Arial, sans-serif" font-size="30" fill="#231f20">Chr9</text>
<text x="842.5" y="775.8" font-family="Liberation Sans, Arial, sans-serif" font-size="30" fill="#231f20">Chr10</text>
<text x="842.5" y="834.7" font-family="Liberation Sans, Arial, sans-serif" font-size="30" fill="#231f20">Chr11</text>
<text x="1832.5" y="180.8" font-family="Liberation Sans, Arial, sans-serif" font-size="30" fill="#231f20">Chr1</text>
<text x="1832.5" y="335" font-family="Liberation Sans, Arial, sans-serif" font-size="30" fill="#231f20">Chr2</text>
<text x="1832.5" y="472" font-family="Liberation Sans, Arial, sans-serif" font-size="30" fill="#231f20">Chr3</text>
<text x="1832.5" y="543.5" font-family="Liberation Sans, Arial, sans-serif" font-size="30" fill="#231f20">Chr4</text>
<text x="1832.5" y="651" font-family="Liberation Sans, Arial, sans-serif" font-size="30" fill="#231f20">Chr5</text>
<text x="1832.5" y="744.8" font-family="Liberation Sans, Arial, sans-serif" font-size="30" fill="#231f20">Chr6</text>
<text x="1832.5" y="812.8" font-family="Liberation Sans, Arial, sans-serif" font-size="30" fill="#231f20">Chr7</text>
<text x="1832.5" y="875.7" font-family="Liberation Sans, Arial, sans-serif" font-size="30" fill="#231f20">Chr8</text>
<text transform="translate(136.2 968.5) rotate(-90)" font-family="Liberation Sans, Arial, sans-serif" font-size="30" fill="#231f20">Chr1</text>
<text transform="translate(241.2 968.5) rotate(-90)" font-family="Liberation Sans, Arial, sans-serif" font-size="30" fill="#231f20">Chr2</text>
<text transform="translate(339.6 968.5) rotate(-90)" font-family="Liberation Sans, Arial, sans-serif" font-size="30" fill="#231f20">Chr3</text>
<text transform="translate(409.8 968.5) rotate(-90)" font-family="Liberation Sans, Arial, sans-serif" font-size="30" fill="#231f20">Chr4</text>
<text transform="translate(476.6 968.5) rotate(-90)" font-family="Liberation Sans, Arial, sans-serif" font-size="30" fill="#231f20">Chr5</text>
<text transform="translate(537.4 968.5) rotate(-90)" font-family="Liberation Sans, Arial, sans-serif" font-size="30" fill="#231f20">Chr6</text>
<text transform="translate(585.3 968.5) rotate(-90)" font-family="Liberation Sans, Arial, sans-serif" font-size="30" fill="#231f20">Chr7</text>
<text transform="translate(632.7 968.5) rotate(-90)" font-family="Liberation Sans, Arial, sans-serif" font-size="30" fill="#231f20">Chr8</text>
<text transform="translate(683.9 968.5) rotate(-90)" font-family="Liberation Sans, Arial, sans-serif" font-size="30" fill="#231f20">Chr9</text>
<text transform="translate(734.9 968.5) rotate(-90)" font-family="Liberation Sans, Arial, sans-serif" font-size="30" fill="#231f20">Chr10</text>
<text transform="translate(793.9 968.5) rotate(-90)" font-family="Liberation Sans, Arial, sans-serif" font-size="30" fill="#231f20">Chr11</text>
<text transform="translate(1122.1 968.5) rotate(-90)" font-family="Liberation Sans, Arial, sans-serif" font-size="30" fill="#231f20">Chr1</text>
<text transform="translate(1276.4 968.5) rotate(-90)" font-family="Liberation Sans, Arial, sans-serif" font-size="30" fill="#231f20">Chr2</text>
<text transform="translate(1413.4 968.5) rotate(-90)" font-family="Liberation Sans, Arial, sans-serif" font-size="30" fill="#231f20">Chr3</text>
<text transform="translate(1483.9 968.5) rotate(-90)" font-family="Liberation Sans, Arial, sans-serif" font-size="30" fill="#231f20">Chr4</text>
<text transform="translate(1592.4 968.5) rotate(-90)" font-family="Liberation Sans, Arial, sans-serif" font-size="30" fill="#231f20">Chr5</text>
<text transform="translate(1686 968.5) rotate(-90)" font-family="Liberation Sans, Arial, sans-serif" font-size="30" fill="#231f20">Chr6</text>
<text transform="translate(1754.1 968.5) rotate(-90)" font-family="Liberation Sans, Arial, sans-serif" font-size="30" fill="#231f20">Chr7</text>
<text transform="translate(1817.3 968.5) rotate(-90)" font-family="Liberation Sans, Arial, sans-serif" font-size="30" fill="#231f20">Chr8</text>
<text x="-1.5" y="28.9" font-family="Liberation Sans, Arial, sans-serif" font-size="42" fill="#231f20">a</text>
<text x="1017.3" y="28.9" font-family="Liberation Sans, Arial, sans-serif" font-size="42" fill="#231f20">b</text>
</svg>
</body></html>
